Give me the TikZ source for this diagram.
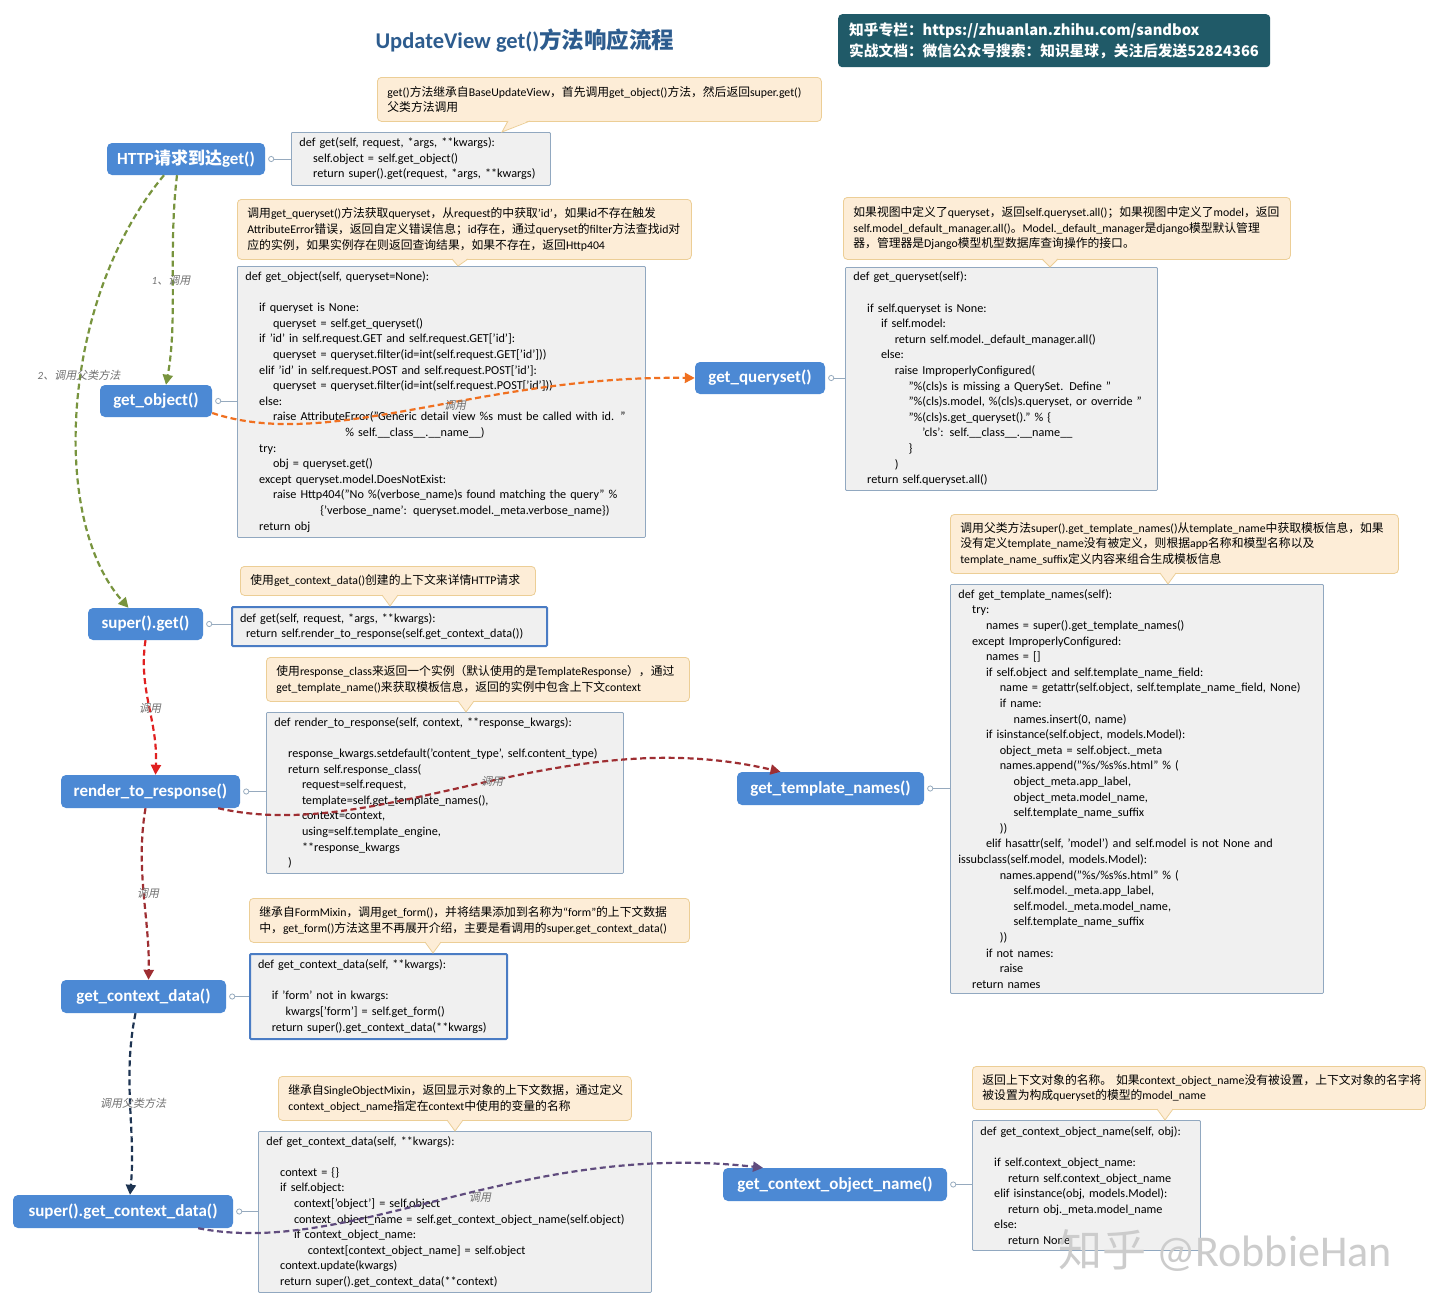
\documentclass[tikz,border=0pt]{standalone}
\usepackage{fontspec}
\setmainfont{Carlito}
\newfontfamily\cjkfont{Noto Sans CJK SC}[AutoFakeSlant=0.2]
\usetikzlibrary{arrows.meta}

% Chinese characters switch to the CJK family
\XeTeXinterchartokenstate=1
\newXeTeXintercharclass\cjkclass
\makeatletter
\count@="3000
\loop\ifnum\count@<"A000 \XeTeXcharclass\count@=\cjkclass \advance\count@ 1 \repeat
\count@="FF00
\loop\ifnum\count@<"FFF0 \XeTeXcharclass\count@=\cjkclass \advance\count@ 1 \repeat
\makeatother
\XeTeXinterchartoks 0 \cjkclass = {\begingroup\cjkfont}
\XeTeXinterchartoks 4095 \cjkclass = {\begingroup\cjkfont}
\XeTeXinterchartoks \cjkclass 0 = {\endgroup}
\XeTeXinterchartoks \cjkclass 4095 = {\endgroup}

\definecolor{methodblue}{RGB}{76,137,212}
\definecolor{codefill}{RGB}{240,240,240}
\definecolor{codeline}{RGB}{145,168,192}
\definecolor{markline}{RGB}{74,124,196}
\definecolor{notefill}{RGB}{253,237,215}
\definecolor{noteline}{RGB}{236,206,150}
\definecolor{titleblue}{RGB}{45,92,142}
\definecolor{bannerteal}{RGB}{32,90,104}
\definecolor{olivecall}{RGB}{120,148,62}
\definecolor{orangecall}{RGB}{240,112,32}
\definecolor{redcall}{RGB}{224,32,32}
\definecolor{brickcall}{RGB}{158,46,50}
\definecolor{navycall}{RGB}{30,52,82}
\definecolor{purplecall}{RGB}{96,76,126}
\definecolor{lblgray}{RGB}{112,112,112}
\definecolor{stubgray}{RGB}{150,170,190}

\newcommand\ind[1]{\hspace*{#1\dimexpr13.8pt\relax}\ignorespaces}
\newcommand\notetip[5]{%
  \fill[notefill] (#1,#4-1) -- (#3,#5) -- (#2,#4-1) -- cycle;
  \draw[noteline, line width=0.8pt] (#1,#4) -- (#3,#5) -- (#2,#4);}

\tikzset{
  method/.style={fill=methodblue, rounded corners=5pt, text=white, inner sep=0pt,
    font=\bfseries\fontsize{17}{19}\selectfont},
  codebox/.style={draw=codeline, fill=codefill, line width=0.8pt, rounded corners=1pt,
    anchor=north west, align=left, inner xsep=8pt, inner ysep=0pt,
    font=\fontsize{12.2}{15.6}\selectfont},
  codemark/.style={codebox, draw=markline, line width=2pt},
  note/.style={draw=noteline, fill=notefill, line width=0.8pt, rounded corners=4pt,
    anchor=north west, align=left, inner xsep=10pt, inner ysep=0pt,
    font=\fontsize{11.8}{15.6}\selectfont},
  call/.style={dash pattern=on 6pt off 3.5pt, line width=2.2pt,
    -{Triangle[length=10pt,width=10pt]}},
  lbl/.style={text=lblgray, font=\itshape\fontsize{11}{13}\selectfont, inner sep=1pt},
  stub/.style={draw=stubgray, line width=0.8pt},
}

\begin{document}
\catcode`\_=12
\begin{tikzpicture}[x=1pt, y=-1pt]
\fill[white] (0,0) rectangle (1440,1307);
\useasboundingbox (0,0) rectangle (1440,1307);

\node[text=titleblue, font=\bfseries\fontsize{22.5}{26}\selectfont] (title) at (525,41) {UpdateView get()方法响应流程};
\node[fill=bannerteal, rounded corners=4pt, text=white, anchor=north west, align=left,
  text width=410pt, minimum height=53pt, inner xsep=11pt, inner ysep=0pt,
  font=\cjkfont\bfseries\fontsize{14.7}{21}\selectfont] (banner) at (838,14)
  {知乎专栏：https://zhuanlan.zhihu.com/sandbox\\实战文档：微信公众号搜索：知识星球，关注后发送52824366};

\node[codebox, text width=243pt, minimum height=53pt] (cget) at (291,132)
  {def get(self, request, *args, **kwargs):\\
   \ind1 self.object = self.get_object()\\
   \ind1 return super().get(request, *args, **kwargs)};

\node[codebox, text width=392pt, minimum height=271pt] (cobj) at (237,266)
  {def get_object(self, queryset=None):\\[15.6pt]
   \ind1 if queryset is None:\\
   \ind2 queryset = self.get_queryset()\\
   \ind1 if 'id' in self.request.GET and self.request.GET['id']:\\
   \ind2 queryset = queryset.filter(id=int(self.request.GET['id']))\\
   \ind1 elif 'id' in self.request.POST and self.request.POST['id']:\\
   \ind2 queryset = queryset.filter(id=int(self.request.POST['id']))\\
   \ind1 else:\\
   \ind2 raise AttributeError("Generic detail view \%s must be called with id. "\\
   \hspace*{100pt}\% self.__class__.__name__)\\
   \ind1 try:\\
   \ind2 obj = queryset.get()\\
   \ind1 except queryset.model.DoesNotExist:\\
   \ind2 raise Http404("No \%(verbose_name)s found matching the query" \%\\
   \hspace*{75pt}\{'verbose_name': queryset.model._meta.verbose_name\})\\
   \ind1 return obj};

\node[codebox, text width=296pt, minimum height=223pt] (cqs) at (845,267)
  {def get_queryset(self):\\[15.6pt]
   \ind1 if self.queryset is None:\\
   \ind2 if self.model:\\
   \ind3 return self.model._default_manager.all()\\
   \ind2 else:\\
   \ind3 raise ImproperlyConfigured(\\
   \ind4 "\%(cls)s is missing a QuerySet. Define "\\
   \ind4 "\%(cls)s.model, \%(cls)s.queryset, or override "\\
   \ind4 "\%(cls)s.get_queryset()." \% \{\\
   \ind5 'cls': self.__class__.__name__\\
   \ind4 \}\\
   \ind3 )\\
   \ind1 return self.queryset.all()};

\node[codemark, text width=299pt, minimum height=39pt] (csuper) at (231,606)
  {def get(self, request, *args, **kwargs):\\
   \hspace*{6pt}return self.render_to_response(self.get_context_data())};

\node[codebox, text width=341pt, minimum height=161pt] (crender) at (266,712)
  {def render_to_response(self, context, **response_kwargs):\\[15.6pt]
   \ind1 response_kwargs.setdefault('content_type', self.content_type)\\
   \ind1 return self.response_class(\\
   \ind2 request=self.request,\\
   \ind2 template=self.get_template_names(),\\
   \ind2 context=context,\\
   \ind2 using=self.template_engine,\\
   \ind2 **response_kwargs\\
   \ind1 )};

\node[codebox, text width=357pt, minimum height=409pt] (ctmpl) at (950,584)
  {def get_template_names(self):\\
   \ind1 try:\\
   \ind2 names = super().get_template_names()\\
   \ind1 except ImproperlyConfigured:\\
   \ind2 names = []\\
   \ind2 if self.object and self.template_name_field:\\
   \ind3 name = getattr(self.object, self.template_name_field, None)\\
   \ind3 if name:\\
   \ind4 names.insert(0, name)\\
   \ind2 if isinstance(self.object, models.Model):\\
   \ind3 object_meta = self.object._meta\\
   \ind3 names.append("\%s/\%s\%s.html" \% (\\
   \ind4 object_meta.app_label,\\
   \ind4 object_meta.model_name,\\
   \ind4 self.template_name_suffix\\
   \ind3 ))\\
   \ind2 elif hasattr(self, 'model') and self.model is not None and\\
   issubclass(self.model, models.Model):\\
   \ind3 names.append("\%s/\%s\%s.html" \% (\\
   \ind4 self.model._meta.app_label,\\
   \ind4 self.model._meta.model_name,\\
   \ind4 self.template_name_suffix\\
   \ind3 ))\\
   \ind2 if not names:\\
   \ind3 raise\\
   \ind1 return names};

\node[codemark, text width=241pt, minimum height=85pt] (cform) at (249,953)
  {def get_context_data(self, **kwargs):\\[15.6pt]
   \ind1 if 'form' not in kwargs:\\
   \ind2 kwargs['form'] = self.get_form()\\
   \ind1 return super().get_context_data(**kwargs)};

\node[codebox, text width=377pt, minimum height=161pt] (cscd) at (258,1131)
  {def get_context_data(self, **kwargs):\\[15.6pt]
   \ind1 context = \{\}\\
   \ind1 if self.object:\\
   \ind2 context['object'] = self.object\\
   \ind2 context_object_name = self.get_context_object_name(self.object)\\
   \ind2 if context_object_name:\\
   \ind3 context[context_object_name] = self.object\\
   \ind1 context.update(kwargs)\\
   \ind1 return super().get_context_data(**context)};

\node[codebox, text width=212pt, minimum height=130pt] (ccon) at (972,1120)
  {def get_context_object_name(self, obj):\\[15.6pt]
   \ind1 if self.context_object_name:\\
   \ind2 return self.context_object_name\\
   \ind1 elif isinstance(obj, models.Model):\\
   \ind2 return obj._meta.model_name\\
   \ind1 else:\\
   \ind2 return None};

\node[note, text width=424pt, minimum height=44pt] (n1) at (377,77)
  {get()方法继承自BaseUpdateView，首先调用get_object()方法，然后返回super.get()\\父类方法调用};
\node[note, text width=434pt, minimum height=60pt] (n2) at (237,199)
  {调用get_queryset()方法获取queryset，从request的中获取'id'，如果id不存在触发\\AttributeError错误，返回自定义错误信息；id存在，通过queryset的filter方法查找id对\\应的实例，如果实例存在则返回查询结果，如果不存在，返回Http404};
\node[note, text width=427pt, minimum height=62pt] (n3) at (843,197)
  {如果视图中定义了queryset，返回self.queryset.all()；如果视图中定义了model，返回\\self.model_default_manager.all()。Model._default_manager是django模型默认管理\\器，管理器是Django模型机型数据库查询操作的接口。};
\node[note, text width=275pt, minimum height=29pt] (n4) at (240,566)
  {使用get_context_data()创建的上下文来详情HTTP请求};
\node[note, text width=403pt, minimum height=44pt] (n5) at (266,657)
  {使用response_class来返回一个实例（默认使用的是TemplateResponse），通过\\get_template_name()来获取模板信息，返回的实例中包含上下文context};
\node[note, text width=428pt, minimum height=59pt] (n6) at (950,514)
  {调用父类方法super().get_template_names()从template_name中获取模板信息，如果\\没有定义template_name没有被定义，则根据app名称和模型名称以及\\template_name_suffix定义内容来组合生成模板信息};
\node[note, text width=420pt, minimum height=44pt] (n7) at (249,898)
  {继承自FormMixin，调用get_form()，并将结果添加到名称为“form”的上下文数据\\中，get_form()方法这里不再展开介绍，主要是看调用的super.get_context_data()};
\node[note, text width=333pt, minimum height=44pt] (n8) at (278,1076)
  {继承自SingleObjectMixin，返回显示对象的上下文数据，通过定义\\context_object_name指定在context中使用的变量的名称};
\node[note, text width=433pt, minimum height=43pt] (n9) at (972,1066)
  {\mbox{返回上下文对象的名称。 如果context_object_name没有被设置，上下文对象的名字将}\\被设置为构成queryset的模型的model_name};

\notetip{508}{530}{502}{121}{132}
\notetip{452}{468}{458}{259}{266}
\notetip{1042}{1058}{1050}{259}{267}
\notetip{382}{398}{390}{595}{606}
\notetip{458}{474}{466}{701}{712}
\notetip{1160}{1176}{1168}{573}{584}
\notetip{425}{441}{433}{942}{953}
\notetip{447}{463}{455}{1120}{1131}
\notetip{1157}{1173}{1165}{1109}{1120}

\node[method, minimum width=158pt, minimum height=32pt] (http) at (186,159) {HTTP请求到达get()};
\node[method, minimum width=112pt, minimum height=32pt] (getobj) at (156,401) {get_object()};
\node[method, minimum width=115pt, minimum height=32pt] (superget) at (145.5,624) {super().get()};
\node[method, minimum width=179pt, minimum height=33pt] (render) at (150.5,791.5) {render_to_response()};
\node[method, minimum width=165pt, minimum height=33pt] (gcd) at (143.5,996.5) {get_context_data()};
\node[method, minimum width=220pt, minimum height=33pt] (sgcd) at (123,1211.5) {super().get_context_data()};
\node[method, minimum width=130pt, minimum height=32pt] (getqs) at (760,378) {get_queryset()};
\node[method, minimum width=187pt, minimum height=33pt] (gtn) at (830.5,788.5) {get_template_names()};
\node[method, minimum width=224pt, minimum height=33pt] (gcon) at (835,1184.5) {get_context_object_name()};

\foreach \m/\c in {http/cget, getobj/cobj, superget/csuper, render/crender, gcd/cform,
                   sgcd/cscd, getqs/cqs, gtn/ctmpl, gcon/ccon} {
  \draw[stub, fill=white] ([xshift=6pt]\m.east) circle[radius=2.6pt];
  \draw[stub] ([xshift=8.6pt]\m.east) -- (\c.west |- \m.east);
}

\draw[call, olivecall] ([xshift=-9pt]http.south) .. controls (168,250) and (178,320) .. ([xshift=10pt]getobj.north);
\draw[call, olivecall] ([xshift=-22pt]http.south) .. controls (60,300) and (50,520) .. ([xshift=-17pt]superget.north);
\draw[call, orangecall] ([yshift=-12pt]getobj.east) .. controls (330,452) and (480,375) .. (getqs.west);
\draw[call, redcall] (superget.south) .. controls (138,690) and (158,720) .. ([xshift=5pt]render.north);
\draw[call, brickcall] ([xshift=-22pt]render.south east) .. controls (380,845) and (560,720) .. ([xshift=-50pt]gtn.north);
\draw[call, brickcall] ([xshift=-5pt]render.south) .. controls (135,870) and (150,920) .. ([xshift=5pt]gcd.north);
\draw[call, navycall] ([xshift=-8pt]gcd.south) .. controls (122,1080) and (136,1130) .. ([xshift=7pt]sgcd.north);
\draw[call, purplecall] ([xshift=-35pt]sgcd.south east) .. controls (350,1258) and (520,1140) .. ([xshift=-72pt]gcon.north);

\node[lbl] (l1) at (171,280) {1、调用};
\node[lbl] (l2) at (79,375) {2、调用父类方法};
\node[lbl] (l3) at (455,405) {调用};
\node[lbl] (l4) at (150,708) {调用};
\node[lbl] (l5) at (492,781) {调用};
\node[lbl] (l6) at (148,893) {调用};
\node[lbl] (l7) at (133,1103) {调用父类方法};
\node[lbl] (l8) at (480,1197) {调用};

\node[text=black!20, font=\fontsize{44}{44}\selectfont] (wm) at (1225,1250) {知乎 @RobbieHan};
\end{tikzpicture}
\end{document}
